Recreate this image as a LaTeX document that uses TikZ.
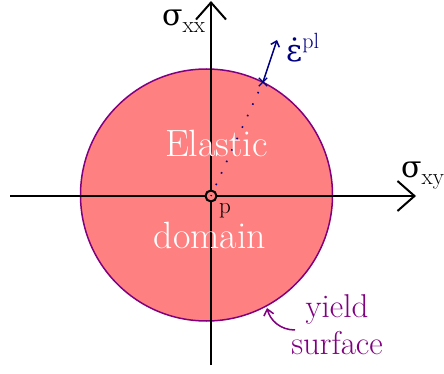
\documentclass[tikz,border=0pt]{standalone}
\usepackage{fontspec}
\usetikzlibrary{arrows.meta,shapes.misc}
\newfontfamily\grkfont{DejaVu Serif}
\definecolor{domainfill}{HTML}{FF8080}
\definecolor{yieldcol}{HTML}{800080}
\definecolor{flowcol}{HTML}{000080}
\newcommand{\grklabel}[2]{{\grkfont\fontsize{30}{32}\selectfont #1}\raisebox{-7pt}{\fontsize{23}{25}\selectfont #2}}

\begin{document}
\begin{tikzpicture}[x=1pt,y=-1pt,>={Straight Barb[length=17pt,width=30pt]}]
  \useasboundingbox (0,0) rectangle (444,374);
  % elastic domain
  \draw[yieldcol,line width=1.5pt,fill=domainfill] (206.5,195) circle[radius=126];
  % axes
  \coordinate (xstart) at (10,196);
  \coordinate (xend) at (416,196);
  \coordinate (ybot) at (211,365);
  \coordinate (ytop) at (211,1);
  \draw[line width=2pt,->] (xstart) -- (xend);
  \draw[line width=2pt,->] (ybot) -- (ytop);
  \node[anchor=base west,inner sep=0] (sxx) at (162,26) {\grklabel{σ}{xx}};
  \node[anchor=base west,inner sep=0] (sxy) at (401,178) {\grklabel{σ}{xy}};
  % stress point and plastic flow
  \node[circle,draw,line width=2pt,fill=domainfill,minimum size=11pt,inner sep=0] (orig) at (211,196) {};
  \node[anchor=base west,inner sep=0,font=\fontsize{23}{25}\selectfont] (plab) at (219,213) {p};
  \node[cross out,draw=flowcol,line width=1.3pt,minimum size=7pt,inner sep=0] (crossmark) at (263,82) {};
  \coordinate (flowtip) at (277,40);
  \draw[flowcol,line width=1.6pt,dash pattern=on 1.6pt off 11pt,dash phase=-12pt] (orig.center) -- (crossmark.center);
  \draw[flowcol,line width=1.5pt,-{Straight Barb[length=5pt,width=9pt]}] (crossmark.center) -- (flowtip);
  \node[anchor=base west,inner sep=0,text=flowcol] (epsdot) at (286,62)
    {{\grkfont\fontsize{31}{33}\selectfont\.{ε}}\raisebox{13pt}{\fontsize{22}{24}\selectfont pl}};
  % labels
  \node[anchor=base,text=white,font=\fontsize{38}{40}\selectfont] (elastic) at (216.5,157) {Elastic};
  \node[anchor=base,text=white,font=\fontsize{38}{40}\selectfont] (domain) at (210,248) {domain};
  \node[anchor=base,text=yieldcol,font=\fontsize{33}{37}\selectfont] (yieldlab) at (337,317) {yield};
  \node[anchor=base,text=yieldcol,font=\fontsize{33}{37}\selectfont] (surflab) at (337,354) {surface};
  \coordinate (ytail) at (295,330);
  \coordinate (yhead) at (267,308);
  \draw[yieldcol,line width=1.5pt,-{Straight Barb[length=6pt,width=10pt]}] (ytail) .. controls (280,330) and (270,320) .. (yhead);
\end{tikzpicture}
\end{document}
